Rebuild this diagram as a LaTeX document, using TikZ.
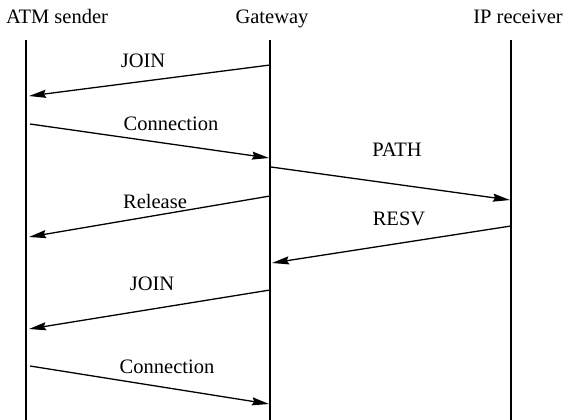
\documentclass[tikz,border=0pt]{standalone}
\usepackage{fontspec}
\setmainfont{Liberation Serif}
\usetikzlibrary{arrows.meta}
\begin{document}
\begin{tikzpicture}[x=1pt,y=-1pt,
  lifeline/.style={line width=1.3pt},
  msg/.style={line width=1.3pt,-{Stealth[length=17pt,width=8pt,inset=2pt]}},
  title/.style={anchor=base,inner sep=0pt,font=\fontsize{20.5}{24}\selectfont},
  lbl/.style={anchor=base,inner sep=0pt,font=\fontsize{20.5}{24}\selectfont}]
\useasboundingbox (0,0) rectangle (568,420);

% participants
\node[title] (atm) at (57,24) {ATM sender};
\node[title] (gw)  at (272,24) {Gateway};
\node[title] (ip)  at (518,24) {IP receiver};

% lifelines
\coordinate (atmT) at (26,40);  \coordinate (atmB) at (26,420);
\coordinate (gwT)  at (270,40); \coordinate (gwB)  at (270,420);
\coordinate (ipT)  at (511,40); \coordinate (ipB)  at (511,420);
\draw[lifeline] (atmT) -- (atmB);
\draw[lifeline] (gwT) -- (gwB);
\draw[lifeline] (ipT) -- (ipB);

% message end points
\coordinate (j1s) at (270,65);  \coordinate (j1e) at (29,96);
\coordinate (c1s) at (30,124);  \coordinate (c1e) at (269,158);
\coordinate (p1s) at (271,167); \coordinate (p1e) at (510,200);
\coordinate (r1s) at (270,196); \coordinate (r1e) at (29,237);
\coordinate (v1s) at (511,226); \coordinate (v1e) at (272,263);
\coordinate (j2s) at (270,290); \coordinate (j2e) at (29,329);
\coordinate (c2s) at (30,366);  \coordinate (c2e) at (269,404);

% messages
\draw[msg] (j1s) -- (j1e);
\draw[msg] (c1s) -- (c1e);
\draw[msg] (p1s) -- (p1e);
\draw[msg] (r1s) -- (r1e);
\draw[msg] (v1s) -- (v1e);
\draw[msg] (j2s) -- (j2e);
\draw[msg] (c2s) -- (c2e);

% message labels
\node[lbl] (lj1) at (143,67)  {JOIN};
\node[lbl] (lc1) at (171,130) {Connection};
\node[lbl] (lp1) at (397,157) {PATH};
\node[lbl] (lr1) at (155,208) {Release};
\node[lbl] (lv1) at (399,225) {RESV};
\node[lbl] (lj2) at (152,290) {JOIN};
\node[lbl] (lc2) at (167,373) {Connection};
\end{tikzpicture}
\end{document}
